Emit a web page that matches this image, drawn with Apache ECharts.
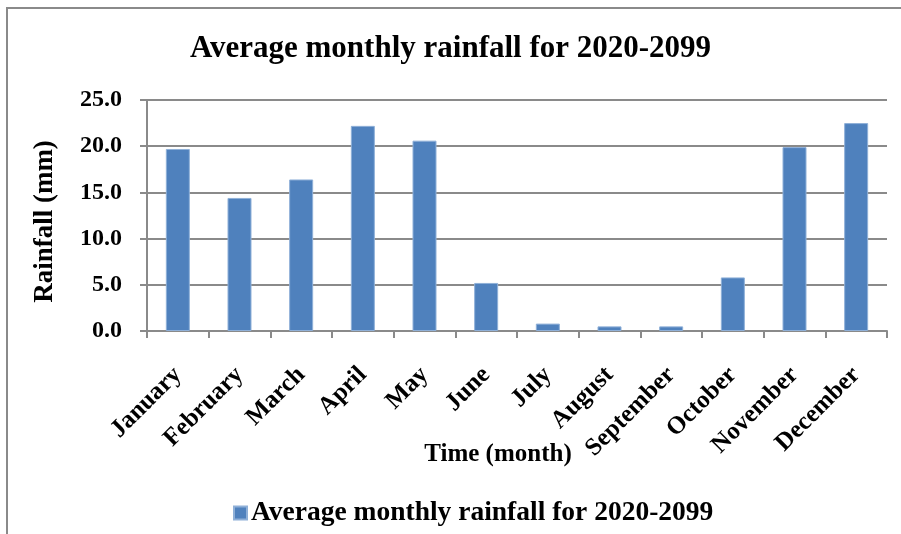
<!DOCTYPE html>
<html>
<head>
<meta charset="utf-8">
<title>Average monthly rainfall for 2020-2099</title>
<script src="https://cdn.jsdelivr.net/npm/echarts@6/dist/echarts.min.js"></script>
<style>
  html, body { margin: 0; padding: 0; background: #fff; }
  #chart { width: 901px; height: 534px; }
</style>
</head>
<body>
<div id="chart"></div>
<script>
// Monthly rainfall averages (mm), 2020-2099
const months = ['January', 'February', 'March', 'April', 'May', 'June',
  'July', 'August', 'September', 'October', 'November', 'December'];
const rainfall = [19.7, 14.4, 16.4, 22.2, 20.6, 5.2, 0.8, 0.5, 0.5, 5.8, 19.9, 22.5];
const seriesName = 'Average monthly rainfall for 2020-2099';

const serif = '"Liberation Serif", "DejaVu Serif", serif';
const gray = '#8a8a8a';

const chart = echarts.init(document.getElementById('chart'));
chart.setOption({
  backgroundColor: '#fff',
  animation: false,
  textStyle: { fontFamily: serif, color: '#000' },
  graphic: [{
    type: 'rect',
    shape: { x: 7, y: 8, width: 940, height: 580 },
    style: { fill: 'none', stroke: gray, lineWidth: 2 },
    silent: true
  }],
  title: {
    text: 'Average monthly rainfall for 2020-2099',
    left: 'center',
    top: 28,
    textStyle: { fontFamily: serif, fontWeight: 'bold', fontSize: 31, color: '#000' }
  },
  legend: {
    top: 499,
    left: 233,
    padding: 0,
    itemWidth: 13,
    itemHeight: 13,
    itemGap: 6,
    icon: 'rect',
    textStyle: { fontFamily: serif, fontWeight: 'bold', fontSize: 27.5, color: '#000', padding: [0, 0, 0, -1] },
    data: [seriesName]
  },
  grid: { left: 147, right: 14, top: 100, bottom: 203 },
  xAxis: {
    type: 'category',
    data: months,
    name: 'Time (month)',
    nameLocation: 'middle',
    nameGap: 111,
    nameMoveOverlap: false,
    nameTextStyle: { fontFamily: serif, fontWeight: 'bold', fontSize: 25, color: '#000', padding: [0, 38, 0, 0] },
    axisLine: { lineStyle: { color: gray, width: 2 } },
    axisTick: { show: true, length: 7, lineStyle: { color: gray, width: 2 } },
    axisLabel: {
      rotate: 45,
      interval: 0,
      margin: 40,
      fontFamily: serif, fontWeight: 'bold', fontSize: 25, color: '#000'
    }
  },
  yAxis: {
    type: 'value',
    min: 0,
    max: 25,
    interval: 5,
    name: 'Rainfall (mm)',
    nameLocation: 'middle',
    nameGap: 88,
    nameMoveOverlap: false,
    nameTextStyle: { fontFamily: serif, fontWeight: 'bold', fontSize: 27, color: '#000', padding: [0, 12, 0, 0] },
    axisLine: { show: true, lineStyle: { color: gray, width: 2 } },
    axisTick: { show: true, length: 7, lineStyle: { color: gray, width: 2 } },
    splitLine: { lineStyle: { color: gray, width: 2 } },
    axisLabel: {
      margin: 25,
      formatter: v => v.toFixed(1),
      fontFamily: serif, fontWeight: 'bold', fontSize: 24, color: '#000'
    }
  },
  series: [{
    name: seriesName,
    type: 'bar',
    data: rainfall,
    barWidth: 24,
    itemStyle: { color: '#4f81bd', borderColor: '#8fb0d8', borderWidth: 1 }
  }]
});
</script>
</body>
</html>
